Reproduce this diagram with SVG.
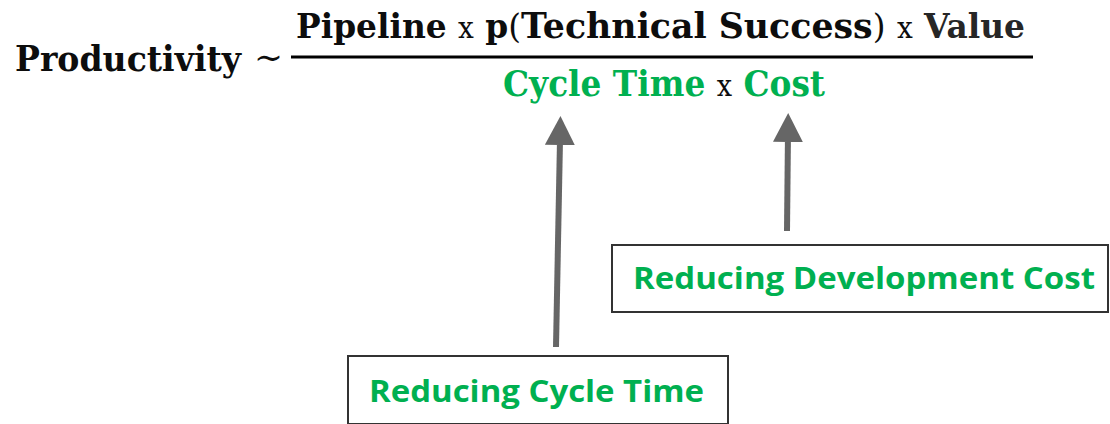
<svg xmlns="http://www.w3.org/2000/svg" width="1110" height="424" viewBox="0 0 1110 424">
  <style>
    .f { font-family: "DejaVu Serif", "Liberation Serif", serif; font-weight: bold; fill: #0d0d0d; }
    .op { font-weight: normal; fill: #0d0d0d; }
    .g { fill: #00b050; }
    .lbl { font-family: "Open Sans", Lato, "Liberation Sans", sans-serif; font-weight: bold; font-size: 31px; fill: #00b050; }
    .box { fill: #ffffff; stroke: #333333; stroke-width: 2; }
    .arrow { stroke: #666666; stroke-width: 6; fill: none; marker-end: url(#head); }
  </style>
  <defs>
    <marker id="head" viewBox="0 -15 29 30" refX="0" refY="0" markerWidth="29" markerHeight="30" markerUnits="userSpaceOnUse" orient="auto">
      <path d="M0,-15 L29,0 L0,15 Z" fill="#666666"/>
    </marker>
  </defs>

  <rect width="1110" height="424" fill="#ffffff"/>

  <!-- productivity formula -->
  <g id="formula">
    <text class="f" x="15" y="71" font-size="36" textLength="226" lengthAdjust="spacingAndGlyphs">Productivity</text>
    <text class="f op" x="254" y="69" font-size="34" textLength="29" lengthAdjust="spacingAndGlyphs">∼</text>
    <text class="f" x="296" y="38" font-size="34" textLength="729" lengthAdjust="spacingAndGlyphs">Pipeline <tspan class="op" font-size="29">x</tspan>  p<tspan class="op">(</tspan><tspan font-size="36">Technical Success</tspan><tspan class="op">)</tspan> <tspan class="op" font-size="29">x</tspan> <tspan fill="#262626">Value</tspan></text>
    <rect x="291" y="55.5" width="742" height="3" fill="#000000"/>
    <text class="f" x="503" y="96" font-size="35" textLength="322" lengthAdjust="spacingAndGlyphs"><tspan class="g">Cycle Time</tspan> <tspan class="op" font-size="29">x</tspan> <tspan class="g">Cost</tspan></text>
  </g>

  <!-- connectors -->
  <g id="connectors">
    <line class="arrow" x1="556" y1="347" x2="559.9" y2="145"/>
    <line class="arrow" x1="787" y1="231" x2="787.9" y2="142"/>
  </g>

  <g id="node-cycle-time">
    <rect class="box" x="348" y="356" width="380" height="68"/>
    <text class="lbl" x="369" y="402" textLength="335" lengthAdjust="spacingAndGlyphs">Reducing Cycle Time</text>
  </g>

  <g id="node-development-cost">
    <rect class="box" x="612" y="245" width="496" height="67"/>
    <text class="lbl" x="633" y="289" textLength="462" lengthAdjust="spacingAndGlyphs">Reducing Development Cost</text>
  </g>
</svg>
